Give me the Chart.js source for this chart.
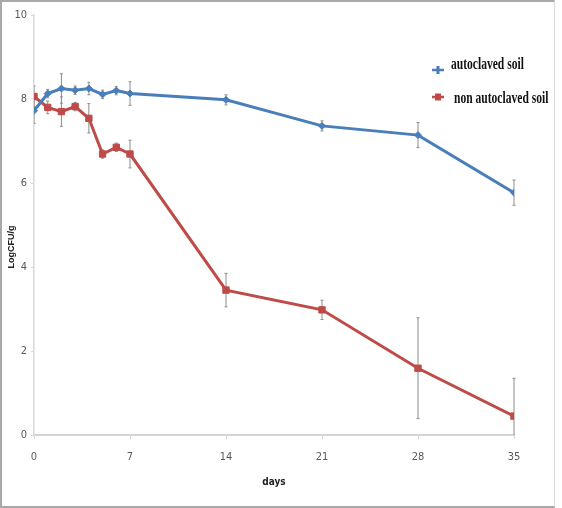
<!DOCTYPE html>
<html>
<head>
<meta charset="utf-8">
<script src="https://cdn.jsdelivr.net/npm/chart.js@4"></script>
<style>
  html, body { margin: 0; padding: 0; background: #fff; }
  #wrap { position: relative; width: 562px; height: 508px; overflow: hidden; }
  #frame { position: absolute; left: 0; top: 0; width: 552px; height: 504px;
           border-top: 2px solid #a9a9a9; border-left: 2px solid #a9a9a9; border-bottom: 2px solid #a9a9a9;
           border-right: 1px solid #dcdcdc; pointer-events: none; }
  canvas { position: absolute; left: 0; top: 0; }
</style>
</head>
<body>
<div id="wrap">
  <canvas id="c" width="562" height="508"></canvas>
  <div id="frame"></div>
</div>
<script>
const days = [0, 1, 2, 3, 4, 5, 6, 7, 14, 21, 28, 35];
const autoclaved = [7.72, 8.13, 8.25, 8.21, 8.25, 8.11, 8.2, 8.13, 7.98, 7.36, 7.14, 5.77];
const autoclavedErr = [0.3, 0.1, 0.35, 0.1, 0.15, 0.1, 0.1, 0.28, 0.12, 0.12, 0.3, 0.3];
const nonAutoclaved = [8.06, 7.8, 7.7, 7.82, 7.54, 6.69, 6.85, 6.69, 3.45, 2.98, 1.59, 0.45];
const nonAutoclavedErr = [0.25, 0.15, 0.35, 0.1, 0.35, 0.1, 0.1, 0.33, 0.4, 0.23, 1.2, 0.9];
const xTicks = [0, 7, 14, 21, 28, 35];

const BLUE = '#4a7ebb';
const RED = '#be4b48';
const tickFont = { family: '"Liberation Sans Narrow", "DejaVu Sans Condensed", "Liberation Sans", sans-serif', size: 11 };

const toPts = vals => days.map((d, i) => ({ x: d, y: vals[i] }));

// error bars, drawn through the scales
const errorBars = {
  id: 'errorBars',
  beforeDatasetsDraw(chart) {
    const { ctx, chartArea, scales: { x, y } } = chart;
    const errs = [autoclavedErr, nonAutoclavedErr];
    ctx.save();
    ctx.beginPath();
    ctx.rect(chartArea.left, chartArea.top - 10, chartArea.right - chartArea.left + 10, chartArea.bottom - chartArea.top + 10);
    ctx.clip();
    ctx.strokeStyle = '#8c8c8c';
    ctx.lineWidth = 1;
    chart.data.datasets.forEach((ds, di) => {
      ds.data.forEach((p, i) => {
        const px = x.getPixelForValue(p.x);
        const top = y.getPixelForValue(p.y + errs[di][i]);
        const bot = y.getPixelForValue(p.y - errs[di][i]);
        ctx.beginPath();
        ctx.moveTo(px, top); ctx.lineTo(px, bot);
        ctx.moveTo(px - 1.5, top); ctx.lineTo(px + 1.5, top);
        ctx.moveTo(px - 1.5, bot); ctx.lineTo(px + 1.5, bot);
        ctx.stroke();
      });
    });
    ctx.restore();
  }
};

// legend and y title, placed like the original
const extras = {
  id: 'extras',
  afterDraw(chart) {
    const { ctx } = chart;
    ctx.save();
    // y axis title
    ctx.translate(12, 247);
    ctx.rotate(-Math.PI / 2);
    ctx.font = 'bold 9px "Liberation Sans", Arial, sans-serif';
    ctx.fillStyle = '#222';
    ctx.textAlign = 'center';
    ctx.textBaseline = 'middle';
    ctx.fillText('LogCFU/g', 0, 0);
    ctx.restore();

    const items = [
      { ds: chart.data.datasets[0], mx: 438, my: 70, tx: 451, ty: 69 },
      { ds: chart.data.datasets[1], mx: 438, my: 97, tx: 454, ty: 103 }
    ];
    items.forEach(it => {
      ctx.save();
      ctx.strokeStyle = it.ds.borderColor;
      ctx.fillStyle = it.ds.borderColor;
      ctx.lineWidth = 2.5;
      ctx.beginPath();
      ctx.moveTo(it.mx - 6, it.my); ctx.lineTo(it.mx + 6, it.my);
      ctx.stroke();
      if (it.ds.pointStyle === 'rect') ctx.fillRect(it.mx - 3, it.my - 3.5, 6, 7);
      else { ctx.fillRect(it.mx - 1.5, it.my - 4, 3, 8); }
      ctx.restore();
      ctx.save();
      ctx.translate(it.tx, it.ty);
      ctx.scale(0.68, 1);
      ctx.font = 'bold 17px "Liberation Serif", "Times New Roman", serif';
      ctx.fillStyle = '#111';
      ctx.textBaseline = 'alphabetic';
      ctx.fillText(it.ds.label, 0, 0);
      ctx.restore();
    });
  }
};

new Chart(document.getElementById('c'), {
  type: 'line',
  data: {
    datasets: [
      { label: 'autoclaved soil', data: toPts(autoclaved), borderColor: BLUE, backgroundColor: BLUE,
        borderWidth: 3, pointStyle: 'rectRot', pointRadius: 3.5, pointBorderWidth: 1, tension: 0 },
      { label: 'non autoclaved soil', data: toPts(nonAutoclaved), borderColor: RED, backgroundColor: RED,
        borderWidth: 3, pointStyle: 'rect', pointRadius: 4.5, pointBorderWidth: 1, tension: 0 }
    ]
  },
  options: {
    responsive: false,
    animation: false,
    layout: { padding: { top: 15, right: 48, left: 0, bottom: 0 } },
    plugins: { legend: { display: false }, tooltip: { enabled: false } },
    scales: {
      x: {
        type: 'linear', min: 0, max: 35,
        afterBuildTicks: s => { s.ticks = xTicks.map(v => ({ value: v })); },
        afterFit: s => { s.height = 73; },
        grid: { drawOnChartArea: false, tickLength: 4, color: '#d9d9d9' },
        border: { color: '#d4d4d4', width: 2 },
        ticks: { font: tickFont, color: '#595959', padding: 12, maxRotation: 0 },
        title: { display: true, text: 'days', font: { family: tickFont.family, size: 10, weight: 'bold' },
                 color: '#222', padding: { top: 0, bottom: 20 } }
      },
      y: {
        min: 0, max: 10,
        ticks: { stepSize: 2, font: tickFont, color: '#595959', padding: 4 },
        afterFit: s => { s.width = 34; },
        grid: { drawOnChartArea: false, tickLength: 3, color: '#d9d9d9' },
        border: { color: '#d9d9d9', width: 1.5 }
      }
    }
  },
  plugins: [errorBars, extras]
});
</script>
</body>
</html>
